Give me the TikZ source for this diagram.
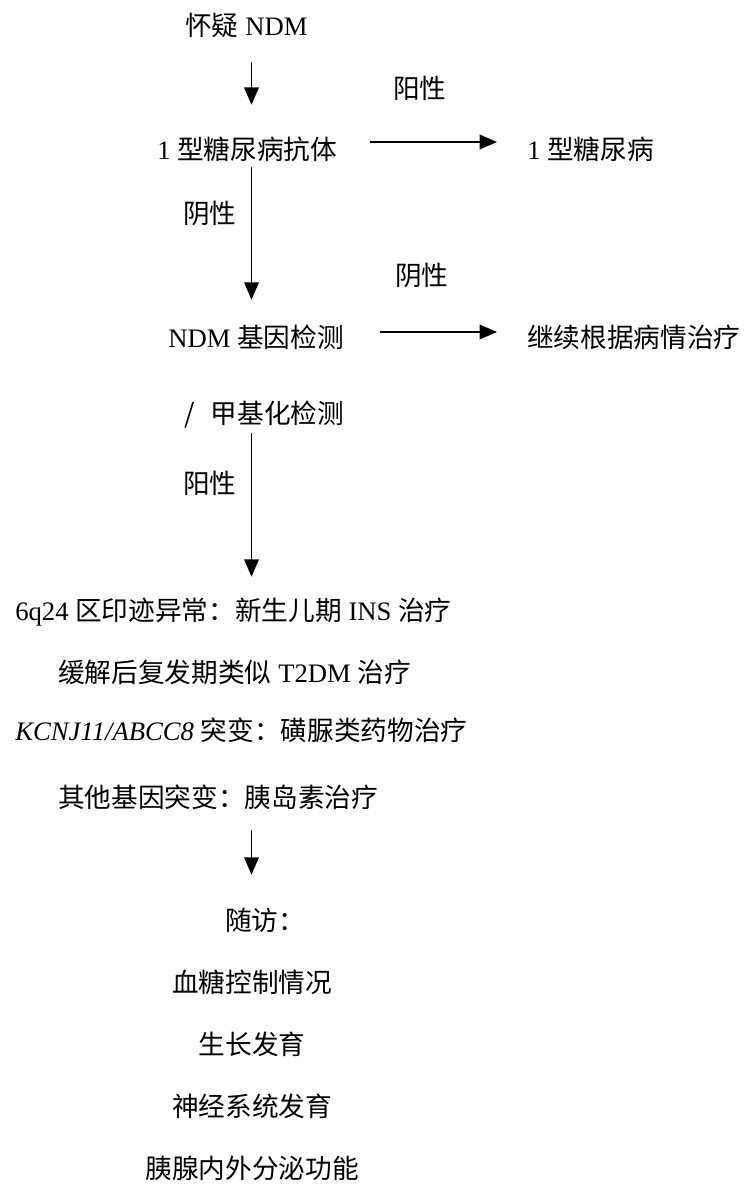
\documentclass[tikz,border=0pt]{standalone}
\usepackage{fontspec}
\setmainfont{Liberation Serif}
\newfontfamily\cjk{Noto Sans CJK SC}
\usetikzlibrary{arrows.meta}
\newcommand{\zh}[1]{{\cjk #1}}

\begin{document}
\begin{tikzpicture}[
  x=0.75pt, y=-0.75pt,
  font=\fontsize{20}{24}\selectfont,
  txt/.style={inner sep=0pt, text height=17.6pt, text depth=2.4pt},
  arr/.style={-{Triangle[length=13pt, width=11pt]}, line width=1.1pt},
]
\useasboundingbox (0,0) rectangle (747,1186);

% main vertical axis
\pgfmathsetmacro{\xm}{251.5}
\coordinate (axis) at (\xm, 0);

% ---- upper part ----
\node[txt, anchor=west] (susp) at (185, 25) {\zh{怀疑} NDM};
\node[txt, anchor=west] (ab)   at (157, 149) {1 \zh{型糖尿病抗体}};
\node[txt, anchor=west] (t1)   at (527, 149) {1 \zh{型糖尿病}};
\node[txt, anchor=west] (gene) at (168, 337) {NDM \zh{基因检测}};
\node[txt, anchor=west] (cont) at (527, 337) {\zh{继续根据病情治疗}};
\node[txt, anchor=west] (meth) at (184, 413) {\zh{/\hspace{0.6em}甲基化检测}};

% ---- branch labels ----
\node[txt, anchor=west] (pos1) at (393, 88)  {\zh{阳性}};
\node[txt, anchor=west] (neg1) at (183, 213) {\zh{阴性}};
\node[txt, anchor=west] (neg2) at (395, 275) {\zh{阴性}};
\node[txt, anchor=west] (pos2) at (183, 483) {\zh{阳性}};

% ---- treatment ----
\node[txt, anchor=west] (L1) at (15, 610) {6q24 \zh{区印迹异常：新生儿期} INS \zh{治疗}};
\node[txt, anchor=west] (L2) at (58, 672) {\zh{缓解后复发期类似} T2DM \zh{治疗}};
\node[txt, anchor=west] (L3) at (15, 730) {\textit{KCNJ11/ABCC8} \zh{突变：磺脲类药物治疗}};
\node[txt, anchor=west] (L4) at (58, 797) {\zh{其他基因突变：胰岛素治疗}};

% ---- follow-up ----
\node[txt, anchor=west] (fu) at (225, 920) {\zh{随访：}};
\foreach \t [count=\k] in {血糖控制情况, 生长发育, 神经系统发育, 胰腺内外分泌功能} {
  \node[txt] (F\k) at (252, 920 + \k*62) {\zh{\t}};
}

% ---- arrows ----
\draw[arr, shorten <=17.8pt, shorten >=23pt]   (susp.south -| axis) -- (ab.north -| axis);
\draw[arr, shorten <=3.5pt,  shorten >=17.8pt] (ab.south -| axis)   -- (gene.north -| axis);
\draw[arr, shorten <=5pt,    shorten >=14.8pt] (meth.south -| axis) -- (L1.north -| axis);
\draw[arr, shorten <=14.8pt, shorten >=23.8pt] (L4.south -| axis)   -- (fu.north -| axis);
\draw[arr, shorten <=24.7pt, shorten >=22.5pt] ([yshift=5.25pt]ab.east)   -- ([yshift=5.25pt]t1.west);
\draw[arr, shorten <=27pt,   shorten >=22.5pt] ([yshift=3.75pt]gene.east) -- ([yshift=3.75pt]cont.west);

\end{tikzpicture}
\end{document}
